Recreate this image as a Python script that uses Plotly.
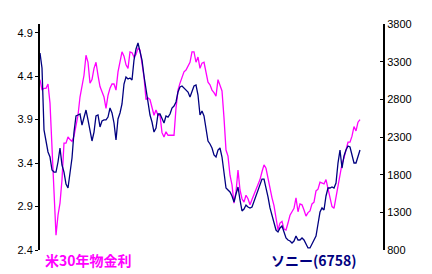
import plotly.graph_objects as go

# 米30年物金利 (left axis, %)
rate = [4.36, 4.24, 4.26, 4.26, 4.31, 4.09, 3.58, 3.09, 2.57, 2.80,
        2.94, 3.21, 3.63, 3.63, 3.70, 3.67, 3.65, 3.71, 3.82, 3.95,
        4.16, 4.28, 4.41, 4.64, 4.56, 4.32, 4.36, 4.49, 4.56, 4.41,
        4.28, 4.22, 4.16, 4.03, 4.18, 4.26, 4.31, 4.31, 4.24, 4.45,
        4.56, 4.68, 4.63, 4.53, 4.49, 4.68, 4.67, 4.62, 4.65, 4.72,
        4.70, 4.56, 4.39, 4.13, 4.15, 4.13, 4.05, 3.95, 4.01, 3.95,
        3.95, 3.75, 3.70, 3.76, 3.72, 3.72, 3.72, 3.72, 4.03, 4.24,
        4.32, 4.40, 4.45, 4.47, 4.52, 4.56, 4.68, 4.68, 4.56, 4.62,
        4.49, 4.55, 4.56, 4.44, 4.33, 4.30, 4.24, 4.21, 4.17, 4.36,
        4.30, 4.23, 3.92, 3.55, 3.48, 3.26, 3.15, 2.94, 3.07, 3.32,
        3.09, 2.99, 2.95, 3.03, 2.99, 2.92, 2.98, 3.04, 3.10, 3.14,
        3.21, 3.30, 3.38, 3.34, 3.22, 3.09, 3.00, 2.91, 2.77, 2.63,
        2.71, 2.73, 2.64, 2.63, 2.71, 2.80, 2.84, 2.88, 3.00, 2.84,
        2.93, 2.92, 2.86, 2.79, 2.83, 2.85, 2.93, 2.95, 3.08, 3.10,
        3.18, 3.17, 3.16, 3.21, 3.11, 3.02, 2.90, 2.88, 3.00, 3.14,
        3.25, 3.39, 3.46, 3.57, 3.64, 3.64, 3.71, 3.82, 3.77, 3.87,
        3.90]

# ソニー(6758) (right axis, yen)
sony = [3415, 3216, 2393, 2220, 2101, 2034, 1862, 1835, 1835, 1968,
        2154, 1928, 1835, 1676, 1623, 1822, 2021, 2366, 2579, 2592,
        2605, 2459, 2565, 2658, 2526, 2366, 2247, 2366, 2579, 2592,
        2433, 2512, 2526, 2526, 2565, 2685, 2619, 2486, 2260, 2539,
        2619, 2738, 3003, 3096, 3070, 3083, 3057, 3322, 3468, 3548,
        3428, 3322, 3110, 2950, 2791, 2592, 2499, 2366, 2419, 2605,
        2605, 2552, 2486, 2579, 2565, 2605, 2685, 2711, 2765, 2897,
        2964, 2977, 2950, 2937, 2897, 2831, 2911, 2977, 2990, 2857,
        2592, 2645, 2579, 2393, 2247, 2207, 2154, 2061, 2034, 2127,
        2154, 2034, 1835, 1623, 1596, 1570, 1517, 1437, 1543, 1636,
        1464, 1318, 1344, 1397, 1371, 1358, 1371, 1450, 1517, 1610,
        1689, 1742, 1742, 1636, 1504, 1358, 1265, 1145, 1065, 1039,
        1092, 1119, 1039, 959, 933, 919, 893, 919, 986, 933,
        933, 959, 933, 880, 827, 827, 880, 933, 986, 1145,
        1304, 1358, 1331, 1517, 1623, 1623, 1636, 1623, 1689, 1955,
        2127, 1888, 2048, 2127, 2180, 2167, 2061, 1955, 1955, 2034,
        2127]

left_ticks = [2.4, 2.9, 3.4, 3.9, 4.4, 4.9]
right_ticks = [800, 1300, 1800, 2300, 2800, 3300, 3800]

n = max(len(rate), len(sony))

fig = go.Figure()
fig.add_trace(go.Scatter(x=list(range(len(rate))), y=rate, mode="lines",
                         line=dict(color="#FF00FF", width=1.3), yaxis="y",
                         name="米30年物金利"))
fig.add_trace(go.Scatter(x=list(range(len(sony))), y=sony, mode="lines",
                         line=dict(color="#000080", width=1.3), yaxis="y2",
                         name="ソニー(6758)"))

font_ticks = dict(family="Liberation Sans, Arial, sans-serif", size=11, color="black")

fig.update_layout(
    width=432, height=274,
    margin=dict(l=40, r=49, t=24, b=24),
    paper_bgcolor="white", plot_bgcolor="white",
    showlegend=False,
    xaxis=dict(range=[0, (n - 1) * 343 / 320], showgrid=False, zeroline=False,
               showline=False, showticklabels=False, ticks=""),
    yaxis=dict(range=[2.4, 5.0], tickvals=left_ticks,
               ticktext=[f"{v:.1f}" for v in left_ticks],
               showgrid=False, zeroline=False, showline=True, linecolor="black",
               linewidth=2, ticks="outside", ticklen=3, tickwidth=1, tickcolor="black",
               tickfont=font_ticks),
    yaxis2=dict(range=[800, 3800], tickvals=right_ticks,
                ticktext=[str(v) for v in right_ticks],
                overlaying="y", side="right", showgrid=False, zeroline=False,
                showline=True, linecolor="black", linewidth=2,
                ticks="inside", ticklen=3, tickwidth=1, tickcolor="black",
                tickfont=font_ticks),
    annotations=[
        dict(text="<b>米30年物金利</b>", xref="paper", yref="paper",
             x=0.009, y=-0.044, xanchor="left", yanchor="middle", showarrow=False,
             font=dict(family="Noto Sans CJK JP", size=14, color="#FF00FF")),
        dict(text="<b>ソニー(6758)</b>", xref="paper", yref="paper",
             x=0.930, y=-0.044, xanchor="right", yanchor="middle", showarrow=False,
             font=dict(family="Noto Sans CJK JP", size=14, color="#000080")),
    ],
)

fig.write_html("out.html")
